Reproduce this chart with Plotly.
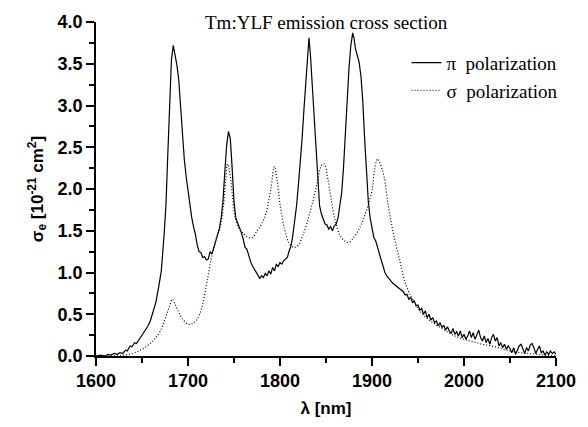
import plotly.graph_objects as go

pi_wl = [1600,1605,1610,1613,1616,1620,1623,1626,1629,1632,1634,1637,1639,1642,1644,1647,1650,1653,1656,1659,
         1662,1665,1668,1671,1674,1676,1678,1680,1682,1684,1686,1688,1690,1692,1694,1696,1698,1700,1702,1704,
         1706,1708,1710,1712,1714,1716,1718,1720,1722,1724,1726,1728,1730,1732,1734,1736,1738,1740,1742,1744,
         1746,1748,1750,1752,1754,1756,1758,1760,1762,1764,1766,1768,1770,1772,1774,1776,1778,1780,1782,1784,
         1786,1788,1790,1792,1794,1796,1798,1800,1802,1804,1806,1808,1810,1812,1814,1816,1818,1820,1822,1824,
         1826,1828,1830,1831.5,1833,1835,1837,1839,1841,1843,1845,1847,1849,1851,1853,1855,1857,1859,1861,1863,
         1865,1867,1869,1871,1873,1875,1877,1879,1880.5,1882,1884,1886,1888,1890,1892,1894,1896,1898,1900,1902,
         1904,1906,1908,1910,1912,1914,1916,1918,1920,1922,1924,1926,1928,1930,1932,1934,1936,1938,1940,1942,
         1944,1946,1948,1950,1952,1954,1956,1958,1960,1962,1964,1966,1968,1970,1972,1974,1976,1978,1980,1982,
         1984,1986,1988,1990,1992,1994,1996,1998,2000,2002,2004,2006,2008,2010,2012,2014,2016,2018,2020,2022,
         2024,2026,2028,2030,2032,2034,2036,2038,2040,2042,2044,2046,2048,2050,2052,2054,2056,2058,2060,2062,
         2064,2066,2068,2070,2072,2074,2076,2078,2080,2082,2084,2086,2088,2090,2092,2094,2096,2098,2100]
pi_val = [0.00,0.01,0.00,0.02,0.01,0.03,0.02,0.04,0.03,0.07,0.06,0.12,0.11,0.16,0.15,0.20,0.24,0.29,0.35,0.42,
          0.52,0.64,0.82,1.02,1.45,1.80,2.40,3.05,3.55,3.72,3.62,3.48,3.30,2.95,2.60,2.35,2.15,1.98,1.82,1.66,
          1.55,1.46,1.33,1.25,1.24,1.18,1.19,1.15,1.16,1.25,1.22,1.30,1.36,1.43,1.52,1.65,1.85,2.20,2.52,2.69,
          2.60,2.25,1.85,1.65,1.60,1.55,1.48,1.40,1.30,1.28,1.20,1.13,1.08,1.04,1.00,0.97,0.93,0.96,0.94,0.99,
          0.96,1.02,0.98,1.06,1.02,1.10,1.07,1.12,1.10,1.14,1.16,1.18,1.26,1.32,1.45,1.62,1.80,2.05,2.30,2.60,
          2.95,3.30,3.65,3.81,3.62,3.25,2.80,2.40,2.05,1.80,1.70,1.64,1.58,1.57,1.52,1.55,1.50,1.56,1.58,1.65,
          1.78,1.95,2.25,2.65,3.10,3.45,3.72,3.87,3.80,3.68,3.60,3.52,3.35,3.05,2.60,2.15,1.85,1.65,1.52,1.42,
          1.38,1.30,1.20,1.15,1.08,1.00,0.96,0.93,0.90,0.88,0.86,0.84,0.82,0.80,0.78,0.77,0.73,0.74,0.68,0.70,
          0.64,0.66,0.60,0.61,0.55,0.57,0.50,0.54,0.46,0.50,0.43,0.46,0.40,0.42,0.36,0.40,0.34,0.37,0.31,0.35,
          0.30,0.27,0.33,0.26,0.29,0.24,0.30,0.22,0.26,0.20,0.24,0.30,0.22,0.28,0.20,0.25,0.31,0.22,0.18,0.24,
          0.16,0.21,0.14,0.22,0.26,0.18,0.22,0.12,0.16,0.10,0.14,0.08,0.12,0.09,0.04,0.10,0.02,0.07,0.12,0.14,
          0.08,0.03,0.10,0.06,0.13,0.15,0.10,0.03,0.08,0.12,0.04,0.06,0.01,0.05,0.02,0.06,0.03,0.05,0.02]

sigma_wl = [1600,1620,1630,1640,1650,1660,1665,1670,1675,1680,1683,1686,1690,1695,1700,1705,1710,1715,1720,1725,
            1730,1735,1738,1741,1743,1745,1748,1751,1755,1760,1765,1770,1775,1780,1785,1790,1794,1797,1800,1805,
            1810,1815,1820,1825,1830,1835,1840,1845,1848,1852,1856,1860,1865,1870,1875,1880,1885,1890,1895,1900,
            1903,1906,1909,1913,1918,1923,1930,1937,1945,1952,1960,1970,1980,1990,2000,2010,2020,2030,2040,2050,
            2060,2070,2080,2090,2100]
sigma_val = [0.00,0.00,0.01,0.03,0.08,0.16,0.22,0.30,0.44,0.60,0.68,0.62,0.52,0.43,0.38,0.39,0.44,0.58,0.85,1.15,
             1.38,1.55,1.75,2.10,2.30,2.22,1.95,1.68,1.53,1.47,1.42,1.42,1.50,1.58,1.72,2.00,2.27,2.10,1.82,1.52,
             1.35,1.30,1.33,1.45,1.62,1.82,2.05,2.28,2.30,2.12,1.85,1.62,1.45,1.38,1.36,1.42,1.50,1.62,1.78,1.98,
             2.25,2.36,2.30,2.15,1.78,1.48,1.15,0.85,0.66,0.54,0.45,0.37,0.30,0.24,0.20,0.17,0.14,0.12,0.09,0.06,
             0.04,0.03,0.02,0.01,0.00]

y_ticks = [0, 0.5, 1.0, 1.5, 2.0, 2.5, 3.0, 3.5, 4.0]
y_ticktext = ["0.0", "0.5", "1.0", "1.5", "2.0", "2.5", "3.0", "3.5", "4.0"]
x_ticks = [1600, 1700, 1800, 1900, 2000, 2100]

fig = go.Figure()
fig.add_trace(go.Scatter(x=pi_wl, y=pi_val, mode="lines", name="π  polarization",
                         line=dict(color="black", width=1.2)))
fig.add_trace(go.Scatter(x=sigma_wl, y=sigma_val, mode="lines", name="σ  polarization",
                         line=dict(color="black", width=1.2, dash="1px,2px", shape="spline")))

bold_sans = dict(family="Liberation Sans", size=18, color="black", weight="bold")
title_font = dict(family="Liberation Sans", size=17, color="black", weight="bold")
fig.update_layout(
    width=588, height=427,
    margin=dict(l=96, r=27, t=17, b=69),
    plot_bgcolor="white", paper_bgcolor="white",
    showlegend=True,
    legend=dict(x=0.675, y=0.935, xanchor="left", yanchor="top",
                font=dict(family="Liberation Serif", size=19, color="black"),
                bgcolor="rgba(0,0,0,0)", tracegroupgap=0, itemwidth=30),
    xaxis=dict(range=[1600, 2100], tickvals=x_ticks,
               showgrid=False, zeroline=False, showline=True, linecolor="black", linewidth=1.5,
               ticks="outside", ticklen=8, tickwidth=1.5, tickcolor="black",
               tickfont=bold_sans,
               minor=dict(dtick=50, tick0=1600, ticks="outside", ticklen=5, tickwidth=1.5, tickcolor="black"),
               title=dict(text="λ [nm]", font=title_font, standoff=12)),
    yaxis=dict(range=[0, 4.0], tickvals=y_ticks, ticktext=y_ticktext,
               showgrid=False, zeroline=False, showline=True, linecolor="black", linewidth=1.5,
               ticks="outside", ticklen=8, tickwidth=1.5, tickcolor="black",
               tickfont=bold_sans,
               minor=dict(dtick=0.25, tick0=0, ticks="outside", ticklen=5, tickwidth=1.5, tickcolor="black"),
               title=dict(text="σ<sub>e</sub> [10<sup>-21</sup> cm<sup>2</sup>]", font=title_font, standoff=10)),
    annotations=[dict(text="Tm:YLF emission cross section", xref="paper", yref="paper",
                      x=0.5, y=1.0, xanchor="center", yanchor="top", showarrow=False, yshift=12,
                      font=dict(family="Liberation Serif", size=19, color="black"))],
)
fig.write_html("out.html")
